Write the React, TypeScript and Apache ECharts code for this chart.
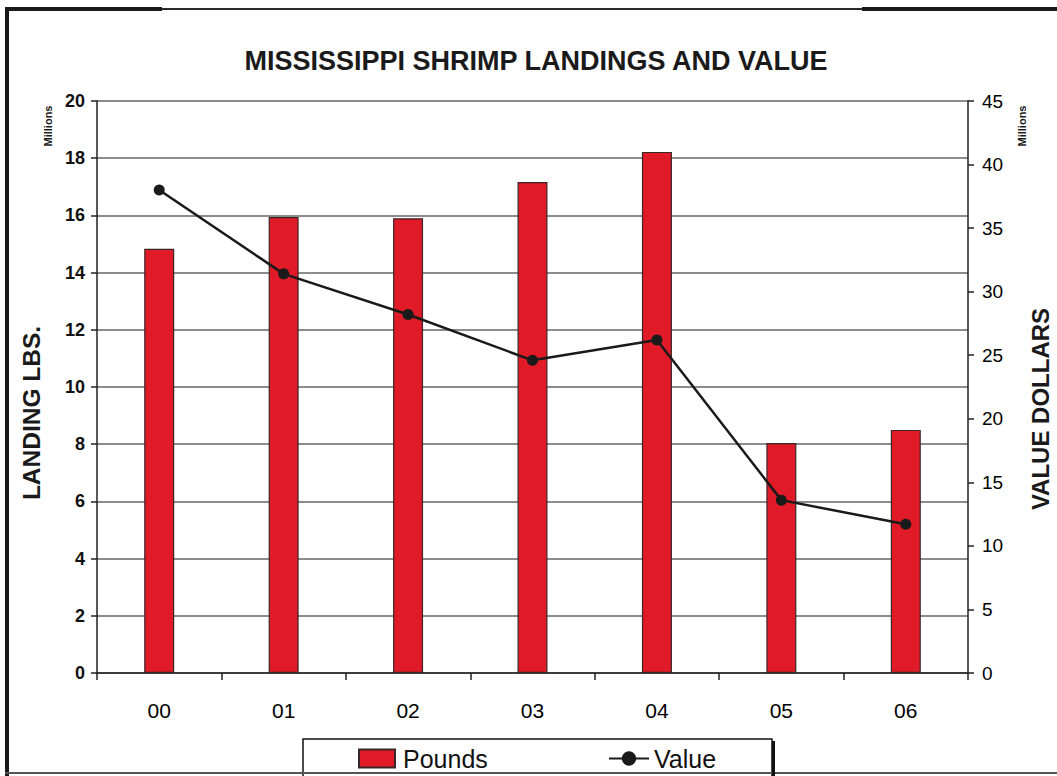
import React, { useEffect, useRef } from "react";
import * as echarts from "echarts";

const categories = ["00", "01", "02", "03", "04", "05", "06"];
const poundsMillions = [14.83, 15.94, 15.9, 17.17, 18.22, 8.04, 8.5];
const valueMillions = [38.0, 31.4, 28.2, 24.6, 26.2, 13.6, 11.7];

const FONT = "Liberation Sans, Arial, Helvetica, sans-serif";

export default function App() {
  const ref = useRef<HTMLDivElement>(null);
  useEffect(() => {
    if (!ref.current) return;
    const chart = echarts.init(ref.current, undefined, { renderer: "svg" });
    chart.setOption({
      animation: false,
      backgroundColor: "#ffffff",
      textStyle: { fontFamily: FONT },
      title: {
        text: "MISSISSIPPI SHRIMP LANDINGS AND VALUE",
        left: 531,
        top: 42,
        textAlign: "center",
        textStyle: { fontFamily: FONT, fontSize: 27, fontWeight: "bold", color: "#1a1a1a" },
      },
      grid: { left: 97, right: 89, top: 101, bottom: 103, containLabel: false },
      legend: [
        {
          left: 353,
          top: 741,
          itemWidth: 36,
          itemHeight: 18,
          textStyle: { fontFamily: FONT, fontSize: 25, lineHeight: 20, color: "#111", padding: [0, 0, 0, 3] },
          data: [{ name: "Pounds", icon: "rect" }],
        },
        {
          left: 603,
          top: 741,
          itemWidth: 40,
          itemHeight: 18,
          textStyle: { fontFamily: FONT, fontSize: 25, lineHeight: 20, color: "#111", padding: [0, 0, 0, 0] },
          data: [{ name: "Value" }],
        },
      ],
      xAxis: {
        type: "category",
        data: categories,
        boundaryGap: true,
        axisLine: { lineStyle: { color: "#222", width: 1.5 } },
        axisTick: { show: true, interval: 0, alignWithLabel: false, length: 7, lineStyle: { color: "#222", width: 1.5 } },
        axisLabel: { fontFamily: FONT, fontSize: 21, color: "#000", margin: 27 },
      },
      yAxis: [
        {
          type: "value",
          min: 0,
          max: 20,
          interval: 2,
          axisLine: { show: true, lineStyle: { color: "#222", width: 1.5 } },
          axisTick: { show: true, length: 6, lineStyle: { color: "#222", width: 1.5 } },
          axisLabel: { fontFamily: FONT, fontSize: 18, fontWeight: "bold", color: "#111", margin: 12 },
          splitLine: { show: true, lineStyle: { color: "#666", width: 1.5 } },
        },
        {
          type: "value",
          min: 0,
          max: 45,
          interval: 5,
          position: "right",
          axisLine: { show: true, lineStyle: { color: "#222", width: 1.5 } },
          axisTick: { show: true, length: 6, lineStyle: { color: "#222", width: 1.5 } },
          axisLabel: { fontFamily: FONT, fontSize: 19, color: "#000", margin: 14 },
          splitLine: { show: false },
        },
      ],
      series: [
        {
          name: "Pounds",
          type: "bar",
          yAxisIndex: 0,
          data: poundsMillions,
          barWidth: 30,
          itemStyle: { color: "#E01B27", borderColor: "#3a2626", borderWidth: 1.2 },
        },
        {
          name: "Value",
          type: "line",
          yAxisIndex: 1,
          data: valueMillions,
          symbol: "circle",
          symbolSize: 11,
          lineStyle: { color: "#1a1a1a", width: 2.5 },
          itemStyle: { color: "#1a1a1a" },
        },
      ],
      graphic: [
        // frame
        { type: "rect", shape: { x: 5, y: 7, width: 4, height: 769 }, style: { fill: "#1a1a1a" } },
        { type: "rect", shape: { x: 5, y: 7, width: 157, height: 4 }, style: { fill: "#1a1a1a" } },
        { type: "rect", shape: { x: 162, y: 8, width: 700, height: 2 }, style: { fill: "#2a2a2a" } },
        { type: "rect", shape: { x: 862, y: 7, width: 195, height: 4 }, style: { fill: "#1a1a1a" } },
        { type: "rect", shape: { x: 5, y: 772, width: 1052, height: 2 }, style: { fill: "#555" } },
        // legend box
        { type: "rect", z: -1, shape: { x: 303, y: 739, width: 469, height: 41 }, style: { fill: "#fff", stroke: "#111", lineWidth: 1.5 } },
        { type: "rect", shape: { x: 772, y: 741, width: 3, height: 35 }, style: { fill: "#111" } },
        // axis titles
        {
          type: "text",
          x: 31,
          y: 413,
          rotation: Math.PI / 2,
          style: { text: "LANDING LBS.", fontFamily: FONT, fontSize: 24.5, fontWeight: "bold", fill: "#1a1a1a", align: "center", verticalAlign: "middle" },
        },
        {
          type: "text",
          x: 1040,
          y: 409,
          rotation: Math.PI / 2,
          style: { text: "VALUE DOLLARS", fontFamily: FONT, fontSize: 24, fontWeight: "bold", fill: "#1a1a1a", align: "center", verticalAlign: "middle" },
        },
        {
          type: "text",
          x: 48,
          y: 126,
          rotation: Math.PI / 2,
          style: { text: "Millions", fontFamily: FONT, fontSize: 11, fontWeight: "bold", fill: "#1a1a1a", align: "center", verticalAlign: "middle" },
        },
        {
          type: "text",
          x: 1022,
          y: 126,
          rotation: Math.PI / 2,
          style: { text: "Millions", fontFamily: FONT, fontSize: 11, fontWeight: "bold", fill: "#1a1a1a", align: "center", verticalAlign: "middle" },
        },
      ],
    });
    return () => chart.dispose();
  }, []);
  return (
    <div
      ref={ref}
      style={{ position: "fixed", left: 0, top: 0, width: 1057, height: 776, background: "#fff" }}
    />
  );
}
